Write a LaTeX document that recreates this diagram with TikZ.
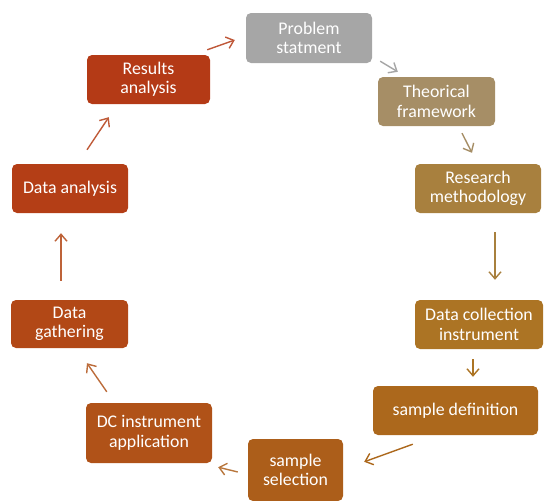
\documentclass[tikz,border=0pt]{standalone}
\usepackage{fontspec}
\setmainfont{Carlito}
\usetikzlibrary{arrows.meta}

\definecolor{probgrey}{RGB}{166,166,166}
\definecolor{theotan}{RGB}{166,142,102}
\definecolor{methbrown}{RGB}{168,128,62}
\definecolor{collbrown}{RGB}{172,116,36}
\definecolor{defbrown}{RGB}{172,104,28}
\definecolor{selbrown}{RGB}{172,94,26}
\definecolor{appbrown}{RGB}{176,82,24}
\definecolor{gathred}{RGB}{178,72,22}
\definecolor{anared}{RGB}{180,62,22}
\definecolor{resred}{RGB}{180,58,22}

\begin{document}
\begin{tikzpicture}[x=1pt,y=-1pt]

%
% Styles
%
\tikzstyle{stage} = [rounded corners=5pt,text=white,align=center,inner sep=0pt,
                     font=\fontsize{17.8}{19.5}\selectfont]
\tikzstyle{edge}  = [-{Straight Barb[length=7pt,width=12pt]},line width=1.4pt]

\useasboundingbox (0,0) rectangle (544,501);

\node[stage,fill=probgrey, minimum width=126pt,minimum height=50pt] (prob)  at (309,38)     {Problem\\statment};
\node[stage,fill=theotan,  minimum width=117pt,minimum height=49pt] (theo)  at (436.5,101.5) {Theorical\\framework};
\node[stage,fill=methbrown,minimum width=126pt,minimum height=49pt] (meth)  at (478,188.5)  {Research\\methodology};
\node[stage,fill=collbrown,minimum width=128pt,minimum height=49pt] (coll)  at (479,324.5)  {Data collection\\instrument};
\node[stage,fill=defbrown, minimum width=165pt,minimum height=49pt] (sdef)  at (455.5,410.5) {sample definition};
\node[stage,fill=selbrown, minimum width=95pt, minimum height=62pt] (ssel)  at (295.5,470)  {sample\\selection};
\node[stage,fill=appbrown, minimum width=126pt,minimum height=60pt] (app)   at (149,433)    {DC instrument\\application};
\node[stage,fill=gathred,  minimum width=117pt,minimum height=48pt] (gath)  at (69.5,324)   {Data\\gathering};
\node[stage,fill=anared,   minimum width=116pt,minimum height=49pt] (ana)   at (70,188.5)   {Data analysis};
\node[stage,fill=resred,   minimum width=123pt,minimum height=49pt] (res)   at (148.5,79.5) {Results\\analysis};

\draw[edge,draw=resred!85]    ([shift={(-3,-5)}]res.north east)   -- ([shift={(-11,2)}]prob.west);
\draw[edge,draw=probgrey]     ([shift={(8,-2)}]prob.south east)   -- ([shift={(20,-5)}]theo.north west);
\draw[edge,draw=theotan]      ([shift={(25.5,7)}]theo.south)      -- ([shift={(-6,-11)}]meth.north);
\draw[edge,draw=methbrown]    ([shift={(17,19)}]meth.south)       -- ([shift={(16,-20)}]coll.north);
\draw[edge,draw=collbrown]    ([shift={(-6,10)}]coll.south)       -- ([shift={(17.5,-9)}]sdef.north);
\draw[edge,draw=defbrown]     ([shift={(40,9)}]sdef.south west)   -- ([shift={(21,23)}]ssel.north east);
\draw[edge,draw=selbrown!85]  ([shift={(-10,2)}]ssel.west)        -- ([shift={(6,4)}]app.south east);
\draw[edge,draw=appbrown!85]  ([shift={(21,-11)}]app.north west)  -- ([shift={(17.5,15)}]gath.south);
\draw[edge,draw=gathred!85]   ([shift={(-8.5,-19)}]gath.north)    -- ([shift={(-9,20)}]ana.south);
\draw[edge,draw=anared!85]    ([shift={(17,-14)}]ana.north)       -- ([shift={(22,13)}]res.south west);

\end{tikzpicture}
\end{document}
